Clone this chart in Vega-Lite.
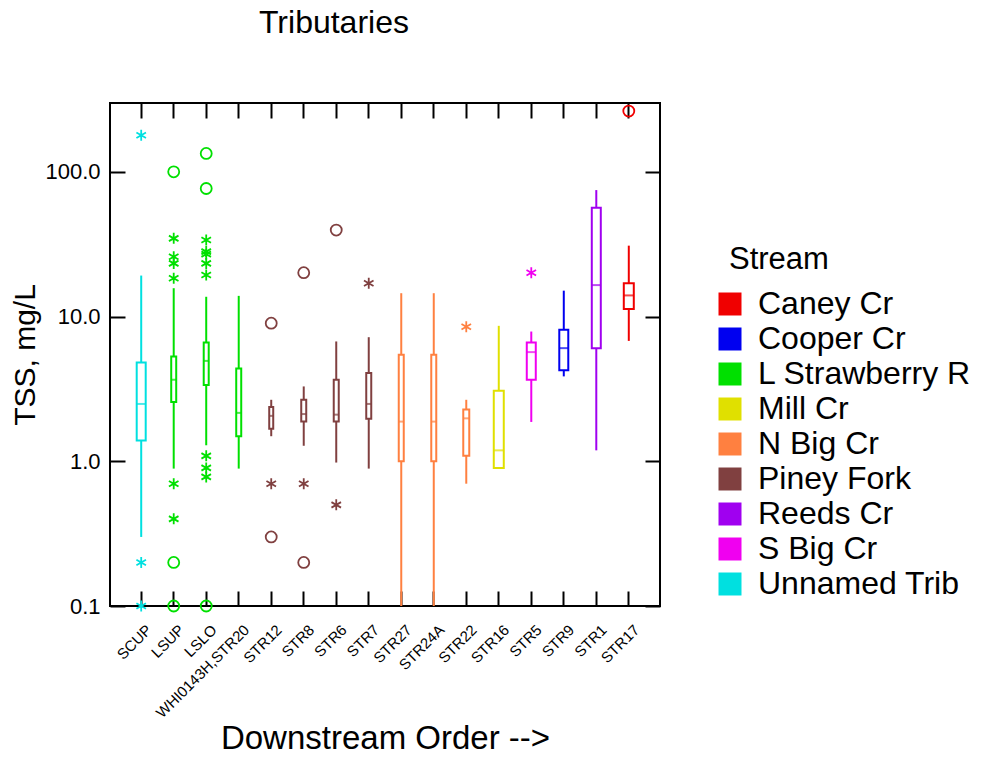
{
  "$schema": "https://vega.github.io/schema/vega-lite/v6.json",
  "width": 550,
  "height": 503,
  "autosize": "none",
  "padding": {"left": 110, "top": 103, "right": 322, "bottom": 152},
  "background": "white",
  "title": {"text": "Tributaries", "fontSize": 32, "fontWeight": "normal", "font": "Liberation Sans", "anchor": "start", "frame": "group", "dx": 149, "offset": 37, "baseline": "alphabetic", "color": "black"},
  "config": {
    "font": "Liberation Sans",
    "view": {"stroke": "black", "strokeWidth": 2},
    "axis": {"domain": false, "grid": false, "tickColor": "black", "tickWidth": 2, "tickSize": -15, "labelColor": "black", "titleColor": "black", "labelFont": "Liberation Sans", "titleFont": "Liberation Sans", "titleFontWeight": "normal"},
    "axisBottom": {"labelAngle": -45, "labelFontSize": 15, "labelPadding": 31, "labelOffset": 3, "titleFontSize": 33, "titlePadding": 2},
    "axisLeft": {"labelFontSize": 22, "labelPadding": 25, "titleFontSize": 30, "titlePadding": 4}
  },
  "datasets": {
    "boxes": [
      {"site": "SCUP", "stream": "Unnamed Trib", "lo": 0.3, "q1": 1.39, "med": 2.49, "q3": 4.82, "hi": 19.2},
      {"site": "LSUP", "stream": "L Strawberry R", "lo": 0.89, "q1": 2.57, "med": 3.66, "q3": 5.3, "hi": 15.7},
      {"site": "LSLO", "stream": "L Strawberry R", "lo": 1.29, "q1": 3.37, "med": 4.94, "q3": 6.62, "hi": 13.7},
      {"site": "WHI0143H,STR20", "stream": "L Strawberry R", "lo": 0.89, "q1": 1.49, "med": 2.16, "q3": 4.38, "hi": 13.9},
      {"site": "STR12", "stream": "Piney Fork", "lo": 1.49, "q1": 1.68, "med": 2.06, "q3": 2.37, "hi": 2.66},
      {"site": "STR8", "stream": "Piney Fork", "lo": 1.28, "q1": 1.88, "med": 2.12, "q3": 2.66, "hi": 3.29},
      {"site": "STR6", "stream": "Piney Fork", "lo": 0.98, "q1": 1.88, "med": 2.1, "q3": 3.66, "hi": 6.73},
      {"site": "STR7", "stream": "Piney Fork", "lo": 0.89, "q1": 1.97, "med": 2.49, "q3": 4.07, "hi": 7.2},
      {"site": "STR27", "stream": "N Big Cr", "lo": 0.1, "q1": 1.0, "med": 1.88, "q3": 5.44, "hi": 14.5},
      {"site": "STR24A", "stream": "N Big Cr", "lo": 0.1, "q1": 1.0, "med": 1.88, "q3": 5.44, "hi": 14.5},
      {"site": "STR22", "stream": "N Big Cr", "lo": 0.7, "q1": 1.09, "med": 1.98, "q3": 2.28, "hi": 2.66},
      {"site": "STR16", "stream": "Mill Cr", "lo": 0.9, "q1": 0.9, "med": 1.19, "q3": 3.07, "hi": 8.63},
      {"site": "STR5", "stream": "S Big Cr", "lo": 1.87, "q1": 3.66, "med": 5.68, "q3": 6.62, "hi": 7.88},
      {"site": "STR9", "stream": "Cooper Cr", "lo": 3.86, "q1": 4.25, "med": 6.05, "q3": 8.1, "hi": 15.1},
      {"site": "STR1", "stream": "Reeds Cr", "lo": 1.19, "q1": 6.05, "med": 16.5, "q3": 56.4, "hi": 74.8},
      {"site": "STR17", "stream": "Caney Cr", "lo": 6.79, "q1": 11.3, "med": 14.0, "q3": 17.0, "hi": 30.9}
    ],
    "outliers": [
      {"site": "SCUP", "stream": "Unnamed Trib", "value": 179, "kind": "outside"},
      {"site": "SCUP", "stream": "Unnamed Trib", "value": 0.2, "kind": "outside"},
      {"site": "SCUP", "stream": "Unnamed Trib", "value": 0.1, "kind": "outside"},
      {"site": "LSUP", "stream": "L Strawberry R", "value": 100, "kind": "far"},
      {"site": "LSUP", "stream": "L Strawberry R", "value": 34.7, "kind": "outside"},
      {"site": "LSUP", "stream": "L Strawberry R", "value": 25.9, "kind": "outside"},
      {"site": "LSUP", "stream": "L Strawberry R", "value": 23.3, "kind": "outside"},
      {"site": "LSUP", "stream": "L Strawberry R", "value": 18.4, "kind": "outside"},
      {"site": "LSUP", "stream": "L Strawberry R", "value": 0.7, "kind": "outside"},
      {"site": "LSUP", "stream": "L Strawberry R", "value": 0.4, "kind": "outside"},
      {"site": "LSUP", "stream": "L Strawberry R", "value": 0.2, "kind": "far"},
      {"site": "LSUP", "stream": "L Strawberry R", "value": 0.1, "kind": "far"},
      {"site": "LSLO", "stream": "L Strawberry R", "value": 134, "kind": "far"},
      {"site": "LSLO", "stream": "L Strawberry R", "value": 76.7, "kind": "far"},
      {"site": "LSLO", "stream": "L Strawberry R", "value": 33.8, "kind": "outside"},
      {"site": "LSLO", "stream": "L Strawberry R", "value": 28.1, "kind": "outside"},
      {"site": "LSLO", "stream": "L Strawberry R", "value": 27.0, "kind": "outside"},
      {"site": "LSLO", "stream": "L Strawberry R", "value": 23.3, "kind": "outside"},
      {"site": "LSLO", "stream": "L Strawberry R", "value": 19.4, "kind": "outside"},
      {"site": "LSLO", "stream": "L Strawberry R", "value": 1.09, "kind": "outside"},
      {"site": "LSLO", "stream": "L Strawberry R", "value": 0.9, "kind": "outside"},
      {"site": "LSLO", "stream": "L Strawberry R", "value": 0.78, "kind": "outside"},
      {"site": "LSLO", "stream": "L Strawberry R", "value": 0.1, "kind": "far"},
      {"site": "STR12", "stream": "Piney Fork", "value": 9.0, "kind": "far"},
      {"site": "STR12", "stream": "Piney Fork", "value": 0.7, "kind": "outside"},
      {"site": "STR12", "stream": "Piney Fork", "value": 0.3, "kind": "far"},
      {"site": "STR8", "stream": "Piney Fork", "value": 20.1, "kind": "far"},
      {"site": "STR8", "stream": "Piney Fork", "value": 0.7, "kind": "outside"},
      {"site": "STR8", "stream": "Piney Fork", "value": 0.2, "kind": "far"},
      {"site": "STR6", "stream": "Piney Fork", "value": 39.6, "kind": "far"},
      {"site": "STR6", "stream": "Piney Fork", "value": 0.5, "kind": "outside"},
      {"site": "STR7", "stream": "Piney Fork", "value": 17.0, "kind": "outside"},
      {"site": "STR22", "stream": "N Big Cr", "value": 8.5, "kind": "outside"},
      {"site": "STR5", "stream": "S Big Cr", "value": 20.1, "kind": "outside"},
      {"site": "STR17", "stream": "Caney Cr", "value": 263, "kind": "far"}
    ]
  },
  "layer": [
    {
      "layer": [
        {
          "data": {"name": "boxes"},
          "mark": {"type": "rule", "strokeWidth": 2},
          "encoding": {
            "x": {"field": "site", "type": "nominal", "scale": {"type": "band", "paddingInner": 0, "paddingOuter": 0.46, "domain": ["SCUP", "LSUP", "LSLO", "WHI0143H,STR20", "STR12", "STR8", "STR6", "STR7", "STR27", "STR24A", "STR22", "STR16", "STR5", "STR9", "STR1", "STR17"]}, "axis": {"title": "Downstream Order -->"}},
            "y": {"field": "lo", "type": "quantitative", "scale": {"type": "log", "domain": [0.1, 299], "nice": false}, "axis": {"title": "TSS, mg/L", "format": ".1f", "values": [0.1, 1, 10, 100]}},
            "y2": {"field": "q1"},
            "color": {"field": "stream", "type": "nominal", "title": "Stream", "scale": {"domain": ["Caney Cr", "Cooper Cr", "L Strawberry R", "Mill Cr", "N Big Cr", "Piney Fork", "Reeds Cr", "S Big Cr", "Unnamed Trib"], "range": ["#F00000", "#0000F0", "#00E000", "#E0E000", "#FF8040", "#804040", "#A000F0", "#F000F0", "#00E0E0"]},
              "legend": {"orient": "none", "legendX": 604, "legendY": 142, "symbolType": "square", "symbolSize": 529, "symbolStrokeWidth": 0, "labelFontSize": 32, "titleFontSize": 31, "titleFontWeight": "normal", "labelOffset": 12, "rowPadding": 3, "titlePadding": 12, "labelColor": "black", "titleColor": "black", "labelFont": "Liberation Sans", "titleFont": "Liberation Sans", "padding": 0, "labelLimit": 400, "encode": {"title": {"update": {"dx": {"value": 15}}}, "symbols": {"update": {"fill": {"scale": "color", "field": "value"}, "stroke": {"value": "transparent"}, "opacity": {"value": 1}}}}}}
          }
        },
        {
          "data": {"name": "boxes"},
          "mark": {"type": "rule", "strokeWidth": 2},
          "encoding": {
            "x": {"field": "site", "type": "nominal", "scale": {"type": "band", "paddingInner": 0, "paddingOuter": 0.46, "domain": ["SCUP", "LSUP", "LSLO", "WHI0143H,STR20", "STR12", "STR8", "STR6", "STR7", "STR27", "STR24A", "STR22", "STR16", "STR5", "STR9", "STR1", "STR17"]}, "axis": {"title": "Downstream Order -->"}},
            "y": {"field": "q3", "type": "quantitative", "scale": {"type": "log", "domain": [0.1, 299], "nice": false}, "axis": {"title": "TSS, mg/L", "format": ".1f", "values": [0.1, 1, 10, 100]}},
            "y2": {"field": "hi"},
            "color": {"field": "stream", "type": "nominal", "title": "Stream", "scale": {"domain": ["Caney Cr", "Cooper Cr", "L Strawberry R", "Mill Cr", "N Big Cr", "Piney Fork", "Reeds Cr", "S Big Cr", "Unnamed Trib"], "range": ["#F00000", "#0000F0", "#00E000", "#E0E000", "#FF8040", "#804040", "#A000F0", "#F000F0", "#00E0E0"]}}
          }
        },
        {
          "data": {"name": "boxes"},
          "mark": {"type": "bar", "filled": false, "strokeWidth": 2},
          "encoding": {
            "x": {"field": "site", "type": "nominal", "scale": {"type": "band", "paddingInner": 0, "paddingOuter": 0.46, "domain": ["SCUP", "LSUP", "LSLO", "WHI0143H,STR20", "STR12", "STR8", "STR6", "STR7", "STR27", "STR24A", "STR22", "STR16", "STR5", "STR9", "STR1", "STR17"]}, "axis": {"title": "Downstream Order -->"}},
            "y": {"field": "q1", "type": "quantitative", "scale": {"type": "log", "domain": [0.1, 299], "nice": false}, "axis": {"title": "TSS, mg/L", "format": ".1f", "values": [0.1, 1, 10, 100]}},
            "y2": {"field": "q3"},
            "size": {"field": "site", "type": "ordinal", "legend": null, "scale": {"type": "ordinal", "domain": ["SCUP", "LSUP", "LSLO", "WHI0143H,STR20", "STR12", "STR8", "STR6", "STR7", "STR27", "STR24A", "STR22", "STR16", "STR5", "STR9", "STR1", "STR17"], "range": [9, 5, 5, 5, 4, 5, 5, 5, 5, 5, 6, 10, 9, 9, 9, 10]}},
            "color": {"field": "stream", "type": "nominal", "title": "Stream", "scale": {"domain": ["Caney Cr", "Cooper Cr", "L Strawberry R", "Mill Cr", "N Big Cr", "Piney Fork", "Reeds Cr", "S Big Cr", "Unnamed Trib"], "range": ["#F00000", "#0000F0", "#00E000", "#E0E000", "#FF8040", "#804040", "#A000F0", "#F000F0", "#00E0E0"]}}
          }
        },
        {
          "data": {"name": "boxes"},
          "mark": {"type": "tick", "thickness": 2, "orient": "horizontal"},
          "encoding": {
            "x": {"field": "site", "type": "nominal", "scale": {"type": "band", "paddingInner": 0, "paddingOuter": 0.46, "domain": ["SCUP", "LSUP", "LSLO", "WHI0143H,STR20", "STR12", "STR8", "STR6", "STR7", "STR27", "STR24A", "STR22", "STR16", "STR5", "STR9", "STR1", "STR17"]}, "axis": {"title": "Downstream Order -->"}},
            "y": {"field": "med", "type": "quantitative", "scale": {"type": "log", "domain": [0.1, 299], "nice": false}, "axis": {"title": "TSS, mg/L", "format": ".1f", "values": [0.1, 1, 10, 100]}},
            "size": {"field": "site", "type": "ordinal", "legend": null, "scale": {"type": "ordinal", "domain": ["SCUP", "LSUP", "LSLO", "WHI0143H,STR20", "STR12", "STR8", "STR6", "STR7", "STR27", "STR24A", "STR22", "STR16", "STR5", "STR9", "STR1", "STR17"], "range": [9, 5, 5, 5, 4, 5, 5, 5, 5, 5, 6, 10, 9, 9, 9, 10]}},
            "color": {"field": "stream", "type": "nominal", "title": "Stream", "scale": {"domain": ["Caney Cr", "Cooper Cr", "L Strawberry R", "Mill Cr", "N Big Cr", "Piney Fork", "Reeds Cr", "S Big Cr", "Unnamed Trib"], "range": ["#F00000", "#0000F0", "#00E000", "#E0E000", "#FF8040", "#804040", "#A000F0", "#F000F0", "#00E0E0"]}}
          }
        },
        {
          "data": {"name": "outliers"},
          "mark": {"type": "point", "filled": false, "strokeWidth": 1.8, "size": 121, "opacity": 1},
          "encoding": {
            "x": {"field": "site", "type": "nominal", "scale": {"type": "band", "paddingInner": 0, "paddingOuter": 0.46, "domain": ["SCUP", "LSUP", "LSLO", "WHI0143H,STR20", "STR12", "STR8", "STR6", "STR7", "STR27", "STR24A", "STR22", "STR16", "STR5", "STR9", "STR1", "STR17"]}, "axis": {"title": "Downstream Order -->"}},
            "y": {"field": "value", "type": "quantitative", "scale": {"type": "log", "domain": [0.1, 299], "nice": false}, "axis": {"title": "TSS, mg/L", "format": ".1f", "values": [0.1, 1, 10, 100]}},
            "shape": {"field": "kind", "type": "nominal", "legend": null, "scale": {"domain": ["far", "outside"], "range": ["circle", "M0,-1L0,1M-0.87,-0.5L0.87,0.5M-0.87,0.5L0.87,-0.5"]}},
            "color": {"field": "stream", "type": "nominal", "title": "Stream", "scale": {"domain": ["Caney Cr", "Cooper Cr", "L Strawberry R", "Mill Cr", "N Big Cr", "Piney Fork", "Reeds Cr", "S Big Cr", "Unnamed Trib"], "range": ["#F00000", "#0000F0", "#00E000", "#E0E000", "#FF8040", "#804040", "#A000F0", "#F000F0", "#00E0E0"]}}
          }
        }
      ]
    },
    {
      "data": {"name": "boxes"},
      "mark": {"type": "tick", "opacity": 0},
      "encoding": {
        "x": {"field": "site", "type": "nominal", "scale": {"type": "band", "paddingInner": 0, "paddingOuter": 0.46, "domain": ["SCUP", "LSUP", "LSLO", "WHI0143H,STR20", "STR12", "STR8", "STR6", "STR7", "STR27", "STR24A", "STR22", "STR16", "STR5", "STR9", "STR1", "STR17"]}, "axis": {"orient": "top", "labels": false, "title": null}},
        "y": {"field": "med", "type": "quantitative", "scale": {"type": "log", "domain": [0.1, 299], "nice": false}, "axis": {"orient": "right", "labels": false, "title": null, "values": [0.1, 1, 10, 100]}}
      }
    }
  ],
  "resolve": {"axis": {"x": "independent", "y": "independent"}}
}
